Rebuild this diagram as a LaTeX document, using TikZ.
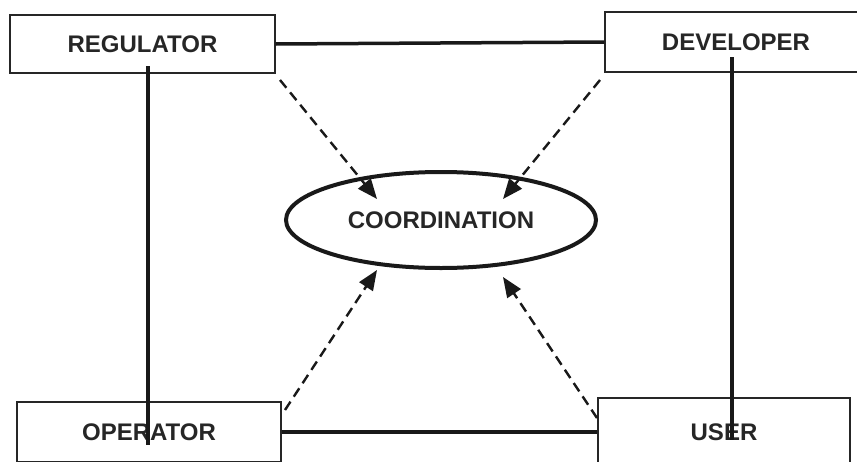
\documentclass[tikz,border=0pt]{standalone}
\usepackage{fontspec}
\setmainfont{Liberation Sans}
\usetikzlibrary{shapes.geometric,arrows.meta}
\begin{document}
\begin{tikzpicture}[x=1pt,y=-1pt,
  actor/.style={draw=black!85,line width=1.4pt,rectangle,inner sep=0pt,
    font=\fontsize{24}{28}\selectfont\bfseries,text=black!85},
  link/.style={line width=3.5pt,draw=black!90},
  infl/.style={line width=2.4pt,draw=black!90,dash pattern=on 10pt off 6pt,
    -{Triangle[length=20pt,width=16pt]}},
]
\useasboundingbox (0,0) rectangle (857,461);
\clip (0,0) rectangle (857,461);
\node[actor,minimum width=265pt,minimum height=58pt] (reg) at (142.5,44) {REGULATOR};
\node[actor,minimum width=262pt,minimum height=60pt] (dev) at (736,42) {DEVELOPER};
\node[actor,minimum width=264pt,minimum height=60pt] (op) at (149,432) {OPERATOR};
\node[actor,minimum width=252pt,minimum height=68pt] (user) at (724,432) {USER};
\node[ellipse,draw=black!90,line width=4pt,minimum width=310pt,minimum height=96pt,inner sep=0pt,
  font=\fontsize{24}{28}\selectfont\bfseries,text=black!85] (coord) at (441,220) {COORDINATION};
% vertical links
\coordinate (r1) at (148,66);
\coordinate (o1) at (148,445);
\coordinate (d1) at (732,57);
\coordinate (u1) at (732,440);
\draw[link] (r1) -- (o1);
\draw[link] (d1) -- (u1);
\draw[link] (reg.east) -- (dev.west);
\draw[link] (op.east) -- (user.west);
% dashed influences
\coordinate (a1) at (280,80);  \coordinate (t1) at (377,199);
\coordinate (a2) at (600,80);  \coordinate (t2) at (503,199);
\coordinate (a3) at (285,410); \coordinate (t3) at (377,270);
\coordinate (a4) at (597,418); \coordinate (t4) at (503,277);
\draw[infl] (a1) -- (t1);
\draw[infl] (a2) -- (t2);
\draw[infl] (a3) -- (t3);
\draw[infl] (a4) -- (t4);
\end{tikzpicture}
\end{document}
